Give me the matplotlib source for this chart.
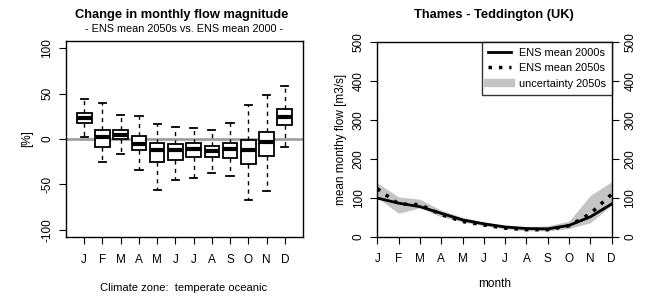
import matplotlib
matplotlib.use("Agg")
import matplotlib.pyplot as plt
from matplotlib.lines import Line2D

plt.rcParams['font.family'] = ['Liberation Sans', 'DejaVu Sans']

months = ["J", "F", "M", "A", "M", "J", "J", "A", "S", "O", "N", "D"]

# Left panel: change in monthly flow (%) box statistics
whisk_lo = [2, -25, -16, -34, -56, -45, -43, -38, -41, -67, -57, -9]
q1 = [17.4, -9, -0.4, -12.6, -25.6, -22.6, -20, -19.6, -21, -28, -19, 15.6]
med = [23, 2, 4, -6, -12.6, -12.6, -11.5, -13, -11.5, -12, -3.7, 24]
q3 = [28.3, 10.4, 10, 3, -4.8, -5.6, -4.8, -7.8, -4.8, -1.5, 8, 32.6]
whisk_hi = [44, 40, 26, 25.6, 16.7, 13.3, 12, 10, 18, 38, 48, 58]

# Right panel: mean monthly flow (m3/s)
ens2000 = [99, 86, 77, 60, 43, 33, 25, 21, 20, 29, 51, 84]
ens2050 = [123, 84, 82, 57, 39, 30, 22, 18, 18, 28, 59, 109]
unc_lo = [100, 60, 74, 51, 38, 28, 20, 15, 15, 21, 36, 81]
unc_hi = [138, 102, 96, 68, 50, 38, 28, 24, 28, 40, 106, 141]

fig = plt.figure(figsize=(6.49, 2.96), dpi=100)

# ---------- Left panel ----------
ax1 = fig.add_axes([66/649, 1-237/296, (303-66)/649, (237-41)/296])
stats = []
for i in range(12):
    stats.append(dict(med=med[i], q1=q1[i], q3=q3[i], whislo=whisk_lo[i], whishi=whisk_hi[i], label=months[i]))
ax1.axhline(0, color='#a0a0a0', lw=2, zorder=0)
ax1.bxp(stats, positions=range(1, 13), widths=0.8, showfliers=False, patch_artist=True,
        boxprops=dict(facecolor='white', edgecolor='black', linewidth=1.3),
        medianprops=dict(color='black', linewidth=3, solid_capstyle='butt'),
        whiskerprops=dict(color='black', linewidth=1, linestyle=(0, (3, 3))),
        capprops=dict(color='black', linewidth=1.3), capwidths=0.4)
ax1.set_xlim(0.0, 13.0)
ax1.set_ylim(-108, 108)
ax1.set_yticks([-100, -50, 0, 50, 100])
ax1.set_yticklabels(['-100', '-50', '0', '50', '100'], rotation=90, va='center')
ax1.set_xticks(range(1, 13))
ax1.set_xticklabels(months)
ax1.tick_params(axis='x', length=5, pad=7, labelsize=8.5)
ax1.tick_params(axis='y', length=5, pad=4, labelsize=8.5)
for s in ax1.spines.values():
    s.set_linewidth(1)
ax1.set_ylabel('[%]', fontsize=8.5, labelpad=6)
fig.text(182/649, 1-15/296, 'Change in monthly flow magnitude', ha='center', va='center',
         fontsize=9.3, fontweight='bold')
fig.text(184/649, 1-29/296, '- ENS mean 2050s vs. ENS mean 2000 -', ha='center', va='center', fontsize=7.8)
fig.text(184/649, 1-288/296, 'Climate zone:  temperate oceanic', ha='center', va='center', fontsize=8)

# ---------- Right panel ----------
ax2 = fig.add_axes([377.3/649, 1-236.7/296, (611.7-377.3)/649, (236.7-41.7)/296])
x = list(range(1, 13))
ax2.fill_between(x, unc_lo, unc_hi, color='#c4c4c4', lw=0)
ax2.plot(x, ens2000, color='black', lw=2)
ax2.plot(x, ens2050, color='black', lw=2.5, linestyle=(0, (1, 2)))
ax2.set_xlim(1, 12)
ax2.set_ylim(0, 500)
ax2.set_xticks(x)
ax2.set_xticklabels(months)
ax2.set_yticks([0, 100, 200, 300, 400, 500])
ax2.set_yticklabels(['0', '100', '200', '300', '400', '500'], rotation=90, va='center')
ax2.tick_params(axis='x', length=5, pad=7, labelsize=8.5)
ax2.tick_params(axis='y', length=5, pad=4, labelsize=8.5, right=True, labelright=True)
for t in ax2.yaxis.get_major_ticks():
    t.label2.set_rotation(90)
    t.label2.set_va('center')
for s in ax2.spines.values():
    s.set_linewidth(1)
ax2.set_xlabel('month', fontsize=8.5, labelpad=9)
ax2.set_ylabel('mean monthy flow [m3/s]', fontsize=8.5, labelpad=4)
fig.text(494/649, 1-15/296, 'Thames - Teddington (UK)', ha='center', va='center',
         fontsize=9.3, fontweight='bold')
handles = [Line2D([], [], color='black', lw=2),
           Line2D([], [], color='black', lw=2.5, linestyle=(0, (1, 2))),
           Line2D([], [], color='#c4c4c4', lw=6)]
leg = ax2.legend(handles, ['ENS mean 2000s', 'ENS mean 2050s', 'uncertainty 2050s'],
                 loc='upper right', fontsize=7.9, frameon=True, fancybox=False,
                 borderaxespad=0, handlelength=2.1, handletextpad=0.7,
                 labelspacing=0.5, borderpad=0.55)
leg.get_frame().set_edgecolor('black')
leg.get_frame().set_linewidth(1)

fig.savefig('out.png', dpi=100)
